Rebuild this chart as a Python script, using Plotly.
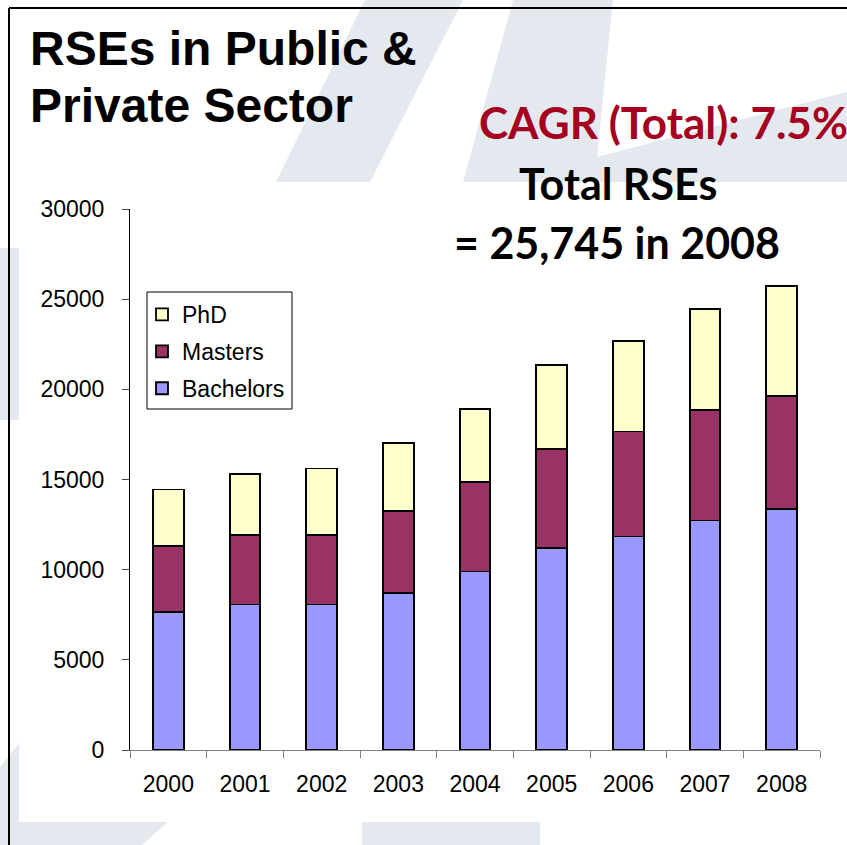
import plotly.graph_objects as go

# ---- data ----
years = ["2000", "2001", "2002", "2003", "2004", "2005", "2006", "2007", "2008"]
bachelors = [7640, 8070, 8070, 8720, 9900, 11210, 11840, 12730, 13360]
masters = [3660, 3870, 3870, 4550, 4970, 5500, 5820, 6140, 6250]
phd = [3150, 3380, 3670, 3770, 4020, 4630, 5000, 5600, 6135]
y_ticks = [0, 5000, 10000, 15000, 20000, 25000, 30000]
title_lines = ["RSEs in Public &", "Private Sector"]
cagr_text = "CAGR (Total): 7.5%"
total_lines = ["Total RSEs", "= 25,745 in 2008"]

# ---- layout geometry (pixels) ----
W, H = 847, 845
L, R, T, B = 130, 820, 209, 750


def px(x):
    return (x - L) / (R - L)


def py(y):
    return (B - y) / (B - T)


def path(points):
    return "M " + " L ".join(f"{px(x):.5f},{py(y):.5f}" for x, y in points) + " Z"


WM = "#E3E9EF"
wm_polys = [
    [(365, 0), (463, 0), (370, 182), (276, 182)],
    [(513, 0), (613, 0), (597, 157), (847, 92), (847, 182), (463, 182)],
    [(0, 248), (19, 248), (19, 420), (0, 420)],
    [(0, 767), (19, 743), (19, 822), (168, 822), (142, 845), (0, 845)],
    [(362, 822), (540, 822), (540, 845), (362, 845)],
]

shapes = [
    dict(type="path", xref="paper", yref="paper", path=path(p),
         fillcolor=WM, line=dict(width=0), layer="below")
    for p in wm_polys
]
shapes += [
    # legend frame
    dict(type="rect", xref="paper", yref="paper", x0=px(147), y0=py(292), x1=px(292), y1=py(409),
         fillcolor="white", line=dict(color="black", width=1), layer="below"),
    dict(type="line", xref="paper", yref="paper", x0=px(9), y0=py(8), x1=px(847), y1=py(8),
         line=dict(color="black", width=2), layer="above"),
    dict(type="line", xref="paper", yref="paper", x0=px(9), y0=py(8), x1=px(9), y1=py(845),
         line=dict(color="black", width=2), layer="above"),
]

fig = go.Figure()
edge = dict(color="black", width=1.8)
fig.add_trace(go.Bar(name="Bachelors", x=years, y=bachelors, legendgroup="b", legendrank=3,
                     marker=dict(color="#9999FF", line=edge)))
fig.add_trace(go.Bar(name="Masters", x=years, y=masters, legendgroup="m", legendrank=2,
                     marker=dict(color="#993366", line=edge)))
fig.add_trace(go.Bar(name="PhD", x=years, y=phd, legendgroup="p", legendrank=1,
                     marker=dict(color="#FFFFCC", line=edge)))

AR = "Liberation Sans, Arial, sans-serif"
HL = "Lato, Calibri, sans-serif"

annotations = [
    dict(text=f"<b>{title_lines[0]}</b>", x=px(28), y=py(48), xanchor="left", yanchor="middle",
         font=dict(family=AR, size=48, color="black")),
    dict(text=f"<b>{title_lines[1]}</b>", x=px(28), y=py(105), xanchor="left", yanchor="middle",
         font=dict(family=AR, size=48, color="black")),
    dict(text=f"<b>{cagr_text}</b>", x=px(663), y=py(122), xanchor="center", yanchor="middle",
         font=dict(family=HL, size=44, color="#A50021")),
    dict(text=f"<b>{total_lines[0]}</b>", x=px(618), y=py(183), xanchor="center", yanchor="middle",
         font=dict(family=HL, size=43, color="black")),
    dict(text=f"<b>{total_lines[1]}</b>", x=px(617), y=py(242), xanchor="center", yanchor="middle",
         font=dict(family=HL, size=43, color="black")),
]
for a in annotations:
    a.update(xref="paper", yref="paper", showarrow=False)

fig.update_layout(
    width=W, height=H,
    margin=dict(l=L, r=W - R, t=T, b=H - B, pad=0),
    barmode="stack", bargap=0.6,
    paper_bgcolor="white", plot_bgcolor="white",
    font=dict(family=AR, size=23, color="black"),
    showlegend=True,
    legend=dict(x=px(142), y=py(293), xanchor="left", yanchor="top",
                bgcolor="rgba(0,0,0,0)", borderwidth=0,
                font=dict(family=AR, size=23, color="black"),
                traceorder="grouped", tracegroupgap=4),
    xaxis=dict(type="category", showline=True, linecolor="#808080", linewidth=1,
               ticks="outside", ticklen=7, tickcolor="#808080", tickson="boundaries",
               showgrid=False, tickfont=dict(family=AR, size=23), ticklabelstandoff=13),
    yaxis=dict(range=[0, 30000], tickvals=y_ticks, tickformat="d", showline=True,
               linecolor="black", linewidth=1, ticks="outside", ticklen=7, tickcolor="#404040",
               showgrid=False, zeroline=False, tickfont=dict(family=AR, size=23),
               ticklabelstandoff=13),
    shapes=shapes,
    annotations=annotations,
)

fig.write_html(
    "out.html",
    config={"displayModeBar": False},
    post_script="document.body.style.margin='0';document.body.style.overflow='hidden';",
)
